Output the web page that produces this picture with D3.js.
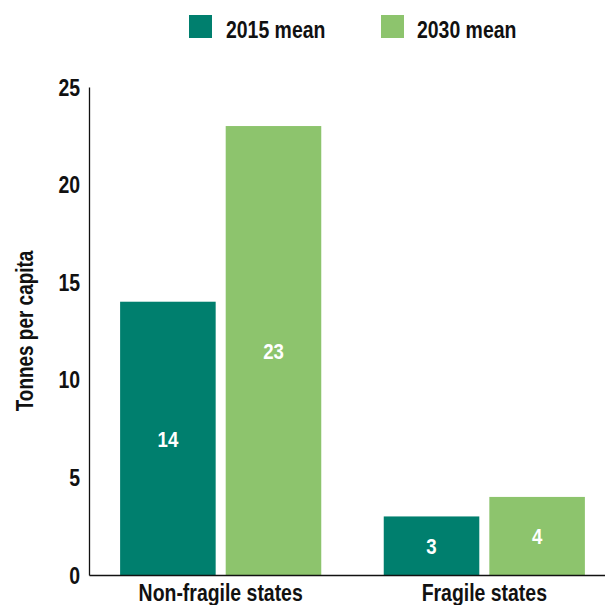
<!DOCTYPE html>
<html>
<head>
<meta charset="utf-8">
<script src="https://cdn.jsdelivr.net/npm/d3@7"></script>
<style>
  html, body { margin: 0; padding: 0; background: #fff; }
  svg { display: block; }
  text { font-family: "Liberation Sans", Arial, sans-serif; font-weight: bold; fill: #111; }
</style>
</head>
<body>
<div id="chart"></div>
<script>
// ---- data ----
const categories = ["Non-fragile states", "Fragile states"];
const seriesNames = ["2015 mean", "2030 mean"];
const values2015 = [14, 3];
const values2030 = [23, 4];
const yTicks = [0, 5, 10, 15, 20, 25];
const yTitle = "Tonnes per capita";
const colors = ["#007f6e", "#8dc46d"];

const rows = categories.map((c, i) => ({
  category: c,
  values: [
    { series: seriesNames[0], value: values2015[i] },
    { series: seriesNames[1], value: values2030[i] }
  ]
}));

const FONT = "'Liberation Sans', Arial, sans-serif";
const SX = 0.81; // horizontal condensing of glyphs

// move x/y into a transform so glyphs can be narrowed without shifting position
function condense(sel, extra) {
  sel.each(function () {
    const t = d3.select(this);
    const x = +t.attr("x") || 0, yy = +t.attr("y") || 0;
    t.attr("x", null).attr("y", null)
     .attr("transform", `translate(${x},${yy})${extra || ""} scale(${SX},1)`);
  });
}

// ---- layout ----
const W = 605, H = 605;
const svg = d3.select("#chart").append("svg").attr("width", W).attr("height", H);

const x0 = d3.scaleBand().domain(categories).range([89, 616])
  .paddingInner(0.237).paddingOuter(0.118);
const x1 = d3.scaleBand().domain(seriesNames).range([0, x0.bandwidth()])
  .paddingInner(0.095).paddingOuter(0);
const y = d3.scaleLinear().domain([0, 25]).range([575, 87]);
const color = d3.scaleOrdinal().domain(seriesNames).range(colors);

// bars
const g = svg.append("g");
const groups = g.selectAll("g.grp").data(rows).join("g")
  .attr("class", "grp")
  .attr("transform", d => `translate(${x0(d.category)},0)`);

groups.selectAll("rect").data(d => d.values).join("rect")
  .attr("x", d => x1(d.series))
  .attr("y", d => y(d.value))
  .attr("width", x1.bandwidth())
  .attr("height", d => y(0) - y(d.value))
  .attr("fill", d => color(d.series));

groups.selectAll("text.val").data(d => d.values).join("text")
  .attr("class", "val")
  .attr("x", d => x1(d.series) + x1.bandwidth() / 2)
  .attr("y", d => (y(d.value) + y(0)) / 2)
  .attr("dy", "0.36em")
  .attr("text-anchor", "middle")
  .style("fill", "#fff")
  .style("font-size", "23px")
  .text(d => d.value)
  .call(condense);

// y axis
const yAxis = svg.append("g").attr("transform", "translate(89,0)")
  .call(d3.axisLeft(y).tickValues(yTicks).tickSize(0).tickPadding(9));
yAxis.select(".domain").attr("stroke", "#111").attr("stroke-width", 1.3);
yAxis.selectAll("text")
  .style("font-size", "24px").style("font-family", FONT).style("font-weight", "bold")
  .attr("fill", "#111").attr("dy", "0.34em")
  .call(condense);

// x axis
const xAxis = svg.append("g").attr("transform", "translate(0,575)")
  .call(d3.axisBottom(x0).tickSize(0).tickPadding(9));
xAxis.select(".domain").attr("stroke", "#111").attr("stroke-width", 1.3);
xAxis.selectAll("text")
  .style("font-size", "24px").style("font-family", FONT).style("font-weight", "bold")
  .attr("fill", "#111").attr("dy", "0.71em")
  .call(condense);

// y title
svg.append("text")
  .attr("x", 33).attr("y", 331)
  .attr("text-anchor", "middle")
  .style("font-size", "23.4px")
  .text(yTitle)
  .call(condense, " rotate(-90)");

// legend
const legendX = [189, 381];
const legendTextDx = [37, 36];
const leg = svg.append("g").selectAll("g").data(seriesNames).join("g")
  .attr("transform", (d, i) => `translate(${legendX[i]},15)`);
leg.append("rect").attr("width", 23).attr("height", 23).attr("fill", d => color(d));
leg.append("text").attr("x", (d, i) => legendTextDx[i]).attr("y", 23)
  .style("font-size", "24px").text(d => d)
  .call(condense);
</script>
</body>
</html>
